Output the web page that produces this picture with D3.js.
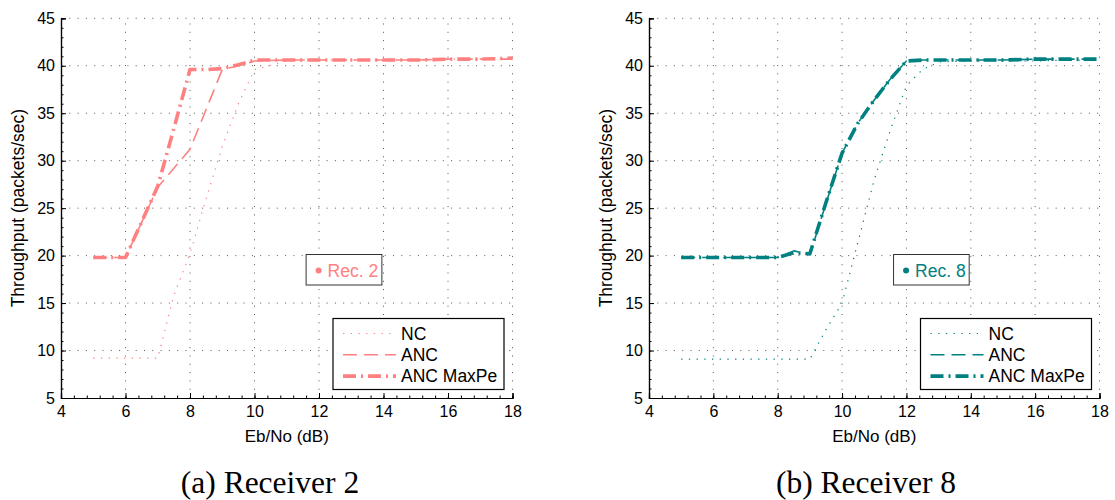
<!DOCTYPE html>
<html>
<head>
<meta charset="utf-8">
<script src="https://cdn.jsdelivr.net/npm/d3@7"></script>
<style>
  html, body { margin: 0; padding: 0; background: #fff; }
  svg { display: block; }
  text { font-family: "Liberation Sans", Arial, sans-serif; }
</style>
</head>
<body>
<svg id="fig" width="1115" height="500"></svg>
<script>
// Throughput vs Eb/No for two receivers

// Receiver 2
const ebNoRx2   = [5, 6, 7, 7.5, 8, 8.5, 9, 9.5, 10, 11, 12, 13, 14, 15, 16, 17, 18];
const ncRx2     = [9.2, 9.2, 9.2, 15.8, 20.2, 26, 31.5, 36, 39.6, 40.5, 40.6, 40.6, 40.6, 40.6, 40.7, 40.7, 40.7];
const ancRx2    = [19.8, 19.8, 27.2, 29.2, 31.2, 35.4, 39.6, 40, 40.5, 40.6, 40.6, 40.6, 40.6, 40.6, 40.7, 40.7, 40.7];
const maxPeRx2  = [19.8, 19.8, 27.3, 33.4, 39.6, 39.6, 39.7, 40.1, 40.6, 40.6, 40.6, 40.6, 40.6, 40.6, 40.7, 40.7, 40.8];

// Receiver 8
const ebNoRx8   = [5, 6, 7, 8, 8.5, 9, 9.5, 10, 10.5, 11, 11.5, 12, 12.5, 13, 14, 15, 16, 17, 18];
const ncRx8     = [9.1, 9.1, 9.1, 9.1, 9.1, 9.1, 12.2, 15, 21.5, 28, 33.2, 37.9, 39.6, 40.4, 40.5, 40.5, 40.5, 40.6, 40.6];
const ancRx8    = [19.8, 19.8, 19.8, 19.8, 20.5, 20.1, 25.5, 30.8, 34, 36.4, 38.6, 40.5, 40.6, 40.6, 40.6, 40.6, 40.7, 40.7, 40.7];
const maxPeRx8  = [19.8, 19.8, 19.8, 19.8, 20.3, 20.2, 25.6, 30.8, 34, 36.4, 38.6, 40.5, 40.6, 40.6, 40.6, 40.6, 40.7, 40.7, 40.7];

const seriesNames = ["NC", "ANC", "ANC MaxPe"];
const xTicks = [4, 6, 8, 10, 12, 14, 16, 18];
const yTicks = [5, 10, 15, 20, 25, 30, 35, 40, 45];
const captions = ["(a) Receiver 2", "(b) Receiver 8"];
const recLabels = ["Rec. 2", "Rec. 8"];

const svg = d3.select("#fig");

const lineStyles = [
  { width: 1.2, dash: "1.3,6.4" },          // NC: dotted
  { width: 1.6, dash: "14,7" },             // ANC: dashed
  { width: 3.6, dash: "13,5,2,5" }          // ANC MaxPe: dash-dot, heavy
];

function panel(cfg) {
  const g = svg.append("g");
  const x = d3.scaleLinear().domain([4, 18]).range([cfg.x0, cfg.x1]);
  const y = d3.scaleLinear().domain([5, 45]).range([398, 18.3]);

  // dotted grid
  const grid = g.append("g").attr("stroke", "#555").attr("stroke-width", 1)
    .attr("stroke-dasharray", "1,7.3").attr("fill", "none");
  xTicks.slice(1).forEach(t => {
    grid.append("line").attr("x1", x(t)).attr("x2", x(t)).attr("y1", y(5)).attr("y2", y(45));
  });
  yTicks.slice(1).forEach(t => {
    grid.append("line").attr("x1", x(4)).attr("x2", x(18)).attr("y1", y(t)).attr("y2", y(t));
  });

  // axes
  const xAxis = d3.axisBottom(x).tickValues(xTicks).tickSize(-5).tickPadding(8).tickFormat(d3.format("d"));
  const yAxis = d3.axisLeft(y).tickValues(yTicks).tickSize(-5).tickPadding(6).tickFormat(d3.format("d"));
  const minorX = d3.axisBottom(x).tickValues(d3.range(4, 18.01, 0.4)).tickSize(-2.5).tickFormat("");
  const minorY = d3.axisLeft(y).tickValues(d3.range(5, 45.01, 1)).tickSize(-2.5).tickFormat("");

  [[minorX, "x"], [minorY, "y"], [xAxis, "x"], [yAxis, "y"]].forEach(([ax, k]) => {
    const a = g.append("g")
      .attr("transform", k === "x" ? `translate(0,${y(5)})` : `translate(${x(4)},0)`)
      .call(ax);
    a.select(".domain").attr("stroke", "#000").attr("stroke-width", 1.2);
    a.selectAll(".tick line").attr("stroke", "#000");
    a.selectAll("text").attr("font-size", 16).attr("fill", "#000")
      .attr("font-family", "'Liberation Sans', Arial, sans-serif");
  });

  // series
  const line = d3.line().x(d => x(d[0])).y(d => y(d[1]));
  cfg.series.forEach((vals, i) => {
    const pts = cfg.ebNo.map((e, j) => [e, vals[j]]);
    g.append("path").datum(pts)
      .attr("d", line)
      .attr("fill", "none")
      .attr("stroke", cfg.color)
      .attr("stroke-width", lineStyles[i].width)
      .attr("stroke-dasharray", lineStyles[i].dash)
      .attr("stroke-linejoin", "round");
  });

  // axis titles
  g.append("text")
    .attr("x", (cfg.x0 + cfg.x1) / 2).attr("y", 442)
    .attr("text-anchor", "middle").attr("font-size", 17).text("Eb/No (dB)");
  g.append("text")
    .attr("transform", `translate(${cfg.x0 - 37},${y(25)}) rotate(-90)`)
    .attr("text-anchor", "middle").attr("font-size", 17.5).text("Throughput (packets/sec)");

  // receiver tag
  const tag = g.append("g");
  tag.append("rect")
    .attr("x", x(cfg.tagX0)).attr("y", 254.5)
    .attr("width", x(cfg.tagX1) - x(cfg.tagX0)).attr("height", 30.5)
    .attr("fill", "#fff").attr("stroke", "#333").attr("stroke-width", 1);
  tag.append("circle").attr("cx", x(cfg.tagX0) + 12.5).attr("cy", 270.5).attr("r", 3)
    .attr("fill", cfg.color);
  tag.append("text").attr("x", x(cfg.tagX0) + 21.5).attr("y", 277)
    .attr("font-size", 17.5).attr("fill", cfg.color).text(cfg.rec);

  // legend
  const lg = g.append("g");
  lg.append("rect")
    .attr("x", cfg.legX).attr("y", 318.5).attr("width", 171).attr("height", 71)
    .attr("fill", "#fff").attr("stroke", "#000").attr("stroke-width", 1.2);
  seriesNames.forEach((name, i) => {
    const yy = 333.5 + i * 21.3;
    lg.append("line")
      .attr("x1", cfg.legX + 10).attr("x2", cfg.legX + 63)
      .attr("y1", yy).attr("y2", yy)
      .attr("stroke", cfg.color)
      .attr("stroke-width", lineStyles[i].width)
      .attr("stroke-dasharray", lineStyles[i].dash);
    lg.append("text")
      .attr("x", cfg.legX + 68).attr("y", yy + 6)
      .attr("font-size", 17.5).attr("fill", "#000").text(name);
  });

  // caption
  svg.append("text")
    .attr("x", cfg.capX).attr("y", 493)
    .attr("text-anchor", "middle")
    .attr("font-size", 31.5).attr("fill", "#000")
    .style("font-family", "'Liberation Serif', 'Times New Roman', serif")
    .text(cfg.caption);
}

panel({
  x0: 61, x1: 512.5, color: "#ff8080",
  ebNo: ebNoRx2, series: [ncRx2, ancRx2, maxPeRx2],
  tagX0: 11.6, tagX1: 13.95, rec: recLabels[0], legX: 333, capX: 270, caption: captions[0]
});
panel({
  x0: 649, x1: 1099.5, color: "#008080",
  ebNo: ebNoRx8, series: [ncRx8, ancRx8, maxPeRx8],
  tagX0: 11.6, tagX1: 13.95, rec: recLabels[1], legX: 920.5, capX: 866, caption: captions[1]
});
</script>
</body>
</html>
